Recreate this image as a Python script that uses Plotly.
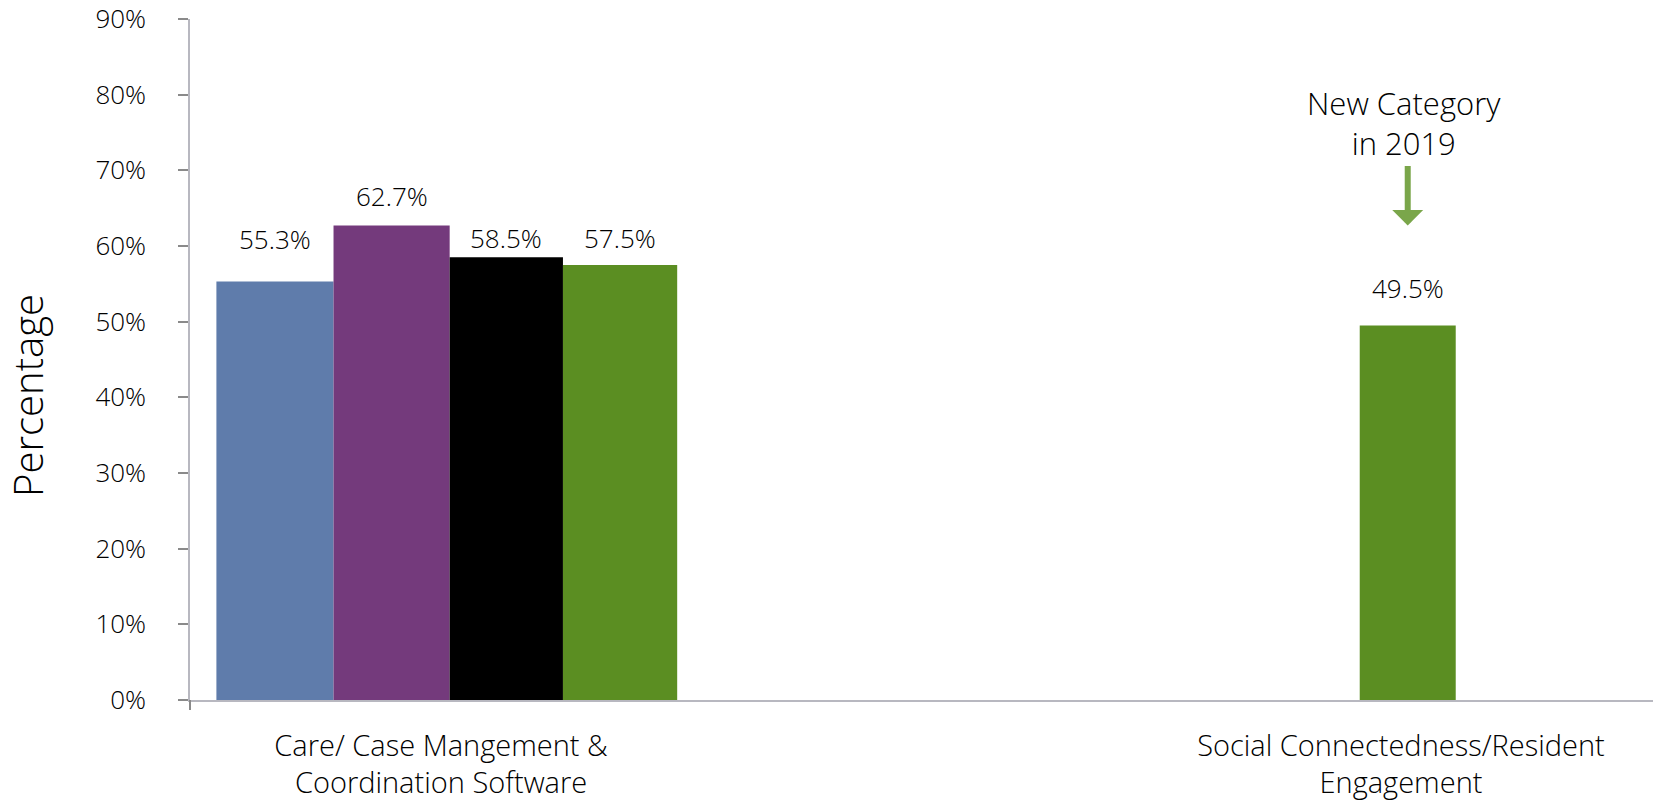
import plotly.graph_objects as go

# ---- data ----
categories = ["Care/ Case Mangement &<br>Coordination Software",
              "Social Connectedness/Resident<br>Engagement"]
series_names = ["2016", "2017", "2018", "2019"]
series_2016 = [55.3, None]
series_2017 = [62.7, None]
series_2018 = [58.5, None]
series_2019 = [57.5, 49.5]
y_tick_values = [0, 10, 20, 30, 40, 50, 60, 70, 80, 90]
y_tick_labels = ["0%", "10%", "20%", "30%", "40%", "50%", "60%", "70%", "80%", "90%"]
annotation_text = "New Category<br>in 2019"
y_title = "Percentage"

# ---- styles ----
colors = ["#5F7CAB", "#743A7C", "#000000", "#5B8E22"]
arrow_color = "#7AA64A"
font_family = "Open Sans"
font_weight = 300
text_color = "#000000"
axis_color = "#B8B8C0"
tick_color = "#8A8A8A"

# bar geometry in category units: (offset, width) per category
bar_geom = [
    [(-0.234, 0.122), None],
    [(-0.112, 0.121), None],
    [(0.009, 0.118), None],
    [(0.127, 0.119), (-0.043, 0.10)],
]
# vertical shift (px) of value labels above bar tops (label centre)
label_shift = [
    [43, None],
    [30, None],
    [19, None],
    [27, 37],
]

W, H = 1653, 809
M = dict(l=190, r=0, t=17, b=109)
plot_w = W - M["l"] - M["r"]
plot_h = H - M["t"] - M["b"]

all_series = [series_2016, series_2017, series_2018, series_2019]


def fnt(size):
    return dict(family=font_family, size=size, color=text_color, weight=font_weight)


fig = go.Figure()
annotations = []
for s, (name, vals) in enumerate(zip(series_names, all_series)):
    xs, ys, offs, wids = [], [], [], []
    for c, v in enumerate(vals):
        if v is None:
            continue
        off, wid = bar_geom[s][c]
        xs.append(categories[c])
        ys.append(v)
        offs.append(off)
        wids.append(wid)
        annotations.append(dict(
            x=c + off + wid / 2, y=v, xref="x", yref="y",
            text=f"{v:.1f}%", showarrow=False, yanchor="middle",
            yshift=label_shift[s][c], font=fnt(26),
        ))
    fig.add_trace(go.Bar(
        x=xs, y=ys, name=name, offset=offs, width=wids,
        marker=dict(color=colors[s], line=dict(width=0)),
        showlegend=False, hoverinfo="x+y+name",
    ))

# arrow pointing at the new 2019 category bar
new_idx = 1
new_off, new_wid = bar_geom[3][new_idx]
new_x = new_idx + new_off + new_wid / 2
new_val = series_2019[new_idx]
annotations.append(dict(
    x=new_x, y=new_val, xref="x", yref="y", text="",
    showarrow=True, arrowhead=1, arrowsize=0.86, arrowwidth=6,
    arrowcolor=arrow_color, ax=0, ay=-61, yshift=100, standoff=0,
))
annotations.append(dict(
    x=new_x, y=new_val, xref="x", yref="y", text=annotation_text,
    showarrow=False, yanchor="middle", yshift=202, xshift=-4, font=fnt(31),
))
# y-axis title, placed as in the reference (below the axis midpoint)
annotations.append(dict(
    x=(28 - M["l"]) / plot_w, y=(700 - 395) / plot_h, xref="paper", yref="paper",
    text=y_title, textangle=-90, showarrow=False,
    xanchor="center", yanchor="middle", font=fnt(40),
))

fig.update_layout(
    width=W, height=H, margin=M,
    paper_bgcolor="white", plot_bgcolor="white",
    barmode="overlay",
    font=fnt(20),
    annotations=annotations,
    shapes=[dict(type="line", xref="paper", yref="paper",
                 x0=0, x1=0, y0=0, y1=-10 / plot_h,
                 line=dict(color=tick_color, width=2))],
)
fig.update_xaxes(
    type="category", categoryorder="array", categoryarray=categories,
    range=[-0.2615, 1.2625], showgrid=False, zeroline=False,
    showline=True, linecolor=axis_color, linewidth=1.5,
    ticks="", ticklabelstandoff=19, tickfont=fnt(29),
)
fig.update_yaxes(
    range=[0, 90], tickvals=y_tick_values, ticktext=y_tick_labels,
    showgrid=False, zeroline=False, showline=True,
    linecolor=axis_color, linewidth=1.5,
    ticks="outside", ticklen=10, tickwidth=2, tickcolor=tick_color,
    ticklabelstandoff=27, ticklabeloverflow="allow", tickfont=fnt(26),
)

fig.write_html("out.html", config={"displayModeBar": False},
               post_script="document.body.style.margin='0';document.body.style.overflow='hidden';")
